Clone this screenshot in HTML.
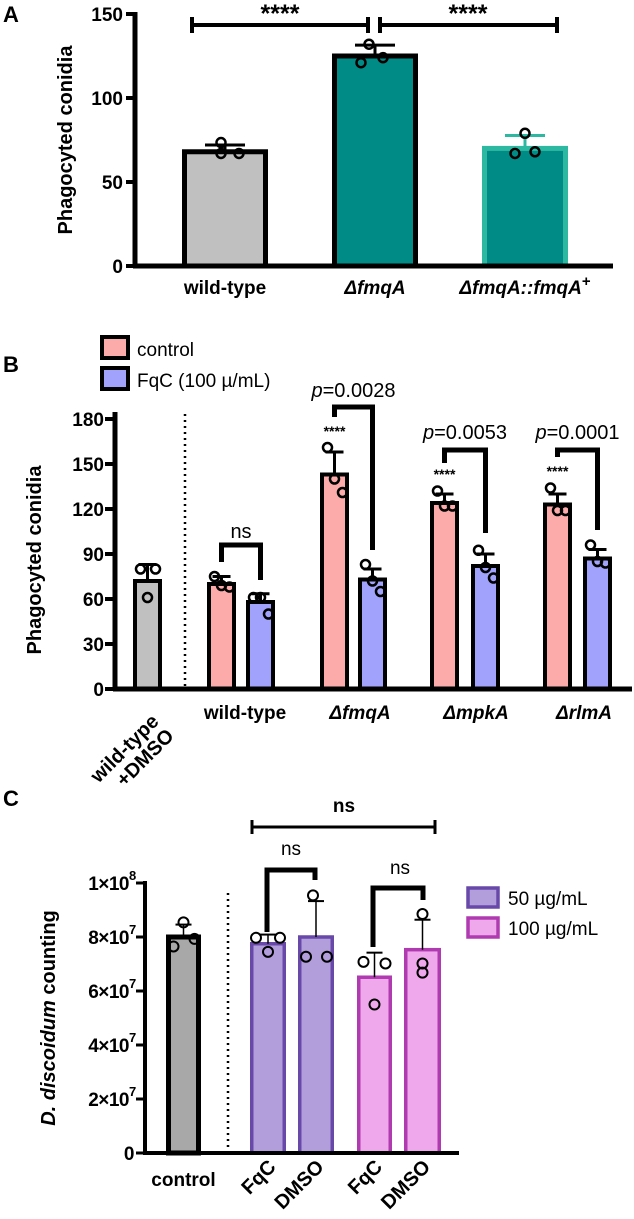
<!DOCTYPE html>
<html><head><meta charset="utf-8">
<style>
html,body{margin:0;padding:0;background:#fff;}
svg{display:block;font-family:"Liberation Sans",sans-serif;}
</style></head>
<body>
<svg id="fig" width="634" height="1219" viewBox="0 0 634 1219" xmlns="http://www.w3.org/2000/svg"></svg>
<script>
// ---------- Panel A data ----------
const aCategories = ["wild-type", "ΔfmqA", "ΔfmqA::fmqA+"];
const aMeans = [68, 125, 70];
const aErrTop = [72, 131.5, 77.7];
const aPoints = [[73.5, 67, 67], [132, 121, 124], [79, 67, 68]];
const aTicks = [0, 50, 100, 150];
// ---------- Panel B data ----------
const bCategories = ["wild-type +DMSO", "wild-type", "ΔfmqA", "ΔmpkA", "ΔrlmA"];
const bDmsoMean = [72];
const bDmsoErr = [83];
const bDmsoPoints = [[80, 80, 61]];
const bControlMeans = [70, 143, 124, 123];
const bControlErr = [75, 158, 130, 130];
const bControlPoints = [[75, 69, 68], [161, 140, 131], [132, 122, 122], [134, 119, 119]];
const bFqcMeans = [58, 73, 82, 87];
const bFqcErr = [63.5, 80, 90, 93];
const bFqcPoints = [[61, 61, 50], [83, 72, 65], [92.5, 81, 74], [96, 85, 84]];
const bPvals = ["ns", "p=0.0028", "p=0.0053", "p=0.0001"];
const bTicks = [0, 30, 60, 90, 120, 150, 180];
// ---------- Panel C data ----------
const cCategories = ["control", "FqC", "DMSO", "FqC", "DMSO"];
const cMeans = [8.0, 7.75, 8.0, 6.51, 7.53];   // x1e7
const cErrTop = [8.46, 8.09, 9.33, 7.42, 8.64];
const cPoints = [[8.54, 7.65, 7.93], [7.97, 7.97, 7.45], [9.54, 7.27, 7.27], [7.08, 7.02, 5.5], [8.85, 7.02, 6.68]];
const cTicks = [0, 2, 4, 6, 8, 10];
const cTickLabels = ["0", "2×10", "4×10", "6×10", "8×10", "1×10"];
const cTickExp = ["", "7", "7", "7", "7", "8"];

const NS = "http://www.w3.org/2000/svg";
const fig = document.getElementById("fig");
function el(tag, attrs, parent, text) {
  const e = document.createElementNS(NS, tag);
  for (const k in attrs) e.setAttribute(k, attrs[k]);
  if (text !== undefined) e.textContent = text;
  (parent || fig).appendChild(e);
  return e;
}
function line(x1,y1,x2,y2,w,p,c){return el("line",{x1,y1,x2,y2,stroke:c||"#000","stroke-width":w},p);}

// ================= PANEL A =================
const gA = el("g", {});


const aY = v => 266 - v * (252 / 150);
const aBarL = [182, 332, 482], aBarW = 86;
const aX = i => aBarL[i] + aBarW / 2;
const tA = el("text", {x: 3, y: 22, "font-size": 22, "font-weight": "bold"}, gA, "A");


const aFill = ["#c0c0c0", "#008b87", "#008b87"], aStroke = ["#000", "#000", "#2db8a2"];
aMeans.forEach((v, i) => {
  const r = el("rect", {x: aBarL[i]+2.5, y: aY(v), width: aBarW-5, height: 266-aY(v), fill: aFill[i], stroke: aStroke[i], "stroke-width": 5}, gA);
  
  
  const ec = aStroke[i];
  line(aX(i), aY(v), aX(i), aY(aErrTop[i]), 3, gA, ec);
  line(aX(i)-20, aY(aErrTop[i]), aX(i)+20, aY(aErrTop[i]), 3, gA, ec);
  const offs = [[-4, -4, 14], [-6, -14, 8], [0, -10, 10]][i];
  aPoints[i].forEach((p, j) => {
    const c = el("circle", {cx: aX(i)+offs[j], cy: aY(p), r: 4.5, fill: "none", stroke: "#000", "stroke-width": 2.5}, gA);
    
    
  });
});
line(135, 12, 135, 268, 5, gA);
line(133, 266, 613, 266, 5, gA);
aTicks.forEach(t => {
  line(126, aY(t), 135, aY(t), 4, gA);
  const tx = el("text", {x: 123, y: aY(t)+7, "text-anchor": "end", "font-size": 19, "font-weight": "bold"}, gA, String(t));
  
  
});
const ytA = el("text", {transform: "translate(72,140) rotate(-90)", "text-anchor": "middle", "font-size": 20, "font-weight": "bold"}, gA, "Phagocyted conidia");


[[192, 368, 280], [380, 557, 468]].forEach(s => {
  line(s[0], 25, s[1], 25, 4, gA);
  line(s[0], 17, s[0], 33, 4, gA);
  line(s[1], 17, s[1], 33, 4, gA);
  const st = el("text", {x: s[2], y: 22, "text-anchor": "middle", "font-size": 25, "font-weight": "bold"}, gA, "****");
  
  
});
const axA = [["wild-type", false], ["ΔfmqA", true], ["ΔfmqA::fmqA", true]];
axA.forEach((c, i) => {
  const t = el("text", {x: aX(i), y: 294, "text-anchor": "middle", "font-size": 19, "font-weight": "bold", "font-style": c[1] ? "italic" : "normal"}, gA, c[0]);
  
  
  if (i === 2) el("tspan", {dy: -8, "font-size": 15, "font-style": "normal"}, t, "+");
});

// ================= PANEL B =================
const gB = el("g", {});


const bY = v => 689 - v * 1.5;
const bGrayL = 133, bGrayW = 29;
const bCtrlL = [207, 320, 430, 543], bFqcL = [246, 358, 471, 583], bW = 29;
const tB = el("text", {x: 3, y: 372, "font-size": 22, "font-weight": "bold"}, gB, "B");


[["control", "#fcaaaa", 337], ["FqC (100 µ/mL)", "#a0a2fc", 368]].forEach((l, i) => {
  const r = el("rect", {x: 102, y: l[2], width: 26, height: 21, fill: l[1], stroke: "#000", "stroke-width": 4}, gB);
  
  
  const t = el("text", {x: 137, y: l[2] + 19, "font-size": 19}, gB, l[0]);
  
  
});
function bBar(left, w, mean, err, pts, fill, name) {
  const r = el("rect", {x: left+2, y: bY(mean), width: w-4, height: 689-bY(mean), fill: fill, stroke: "#000", "stroke-width": 4}, gB);
  
  
  const cx = left + w/2;
  line(cx, bY(mean), cx, bY(err), 3, gB);
  line(cx-9, bY(err), cx+9, bY(err), 3, gB);
  pts.forEach((p, j) => {
    const c = el("circle", {cx: cx + [-7, 0, 8][j], cy: bY(p), r: 4.5, fill: "none", stroke: "#000", "stroke-width": 2.5}, gB);
    
    
  });
}
bBar(bGrayL, bGrayW, bDmsoMean[0], bDmsoErr[0], [bDmsoPoints[0][0], bDmsoPoints[0][2], bDmsoPoints[0][1]], "#c0c0c0", "bar-wildtype-dmso");
bControlMeans.forEach((v, i) => bBar(bCtrlL[i], bW, v, bControlErr[i], bControlPoints[i], "#fcaaaa", "bar-control-" + i));
bFqcMeans.forEach((v, i) => bBar(bFqcL[i], bW, v, bFqcErr[i], bFqcPoints[i], "#a0a2fc", "bar-fqc-" + i));
el("line", {x1: 185, y1: 414, x2: 185, y2: 687, stroke: "#000", "stroke-width": 2.5, "stroke-dasharray": "2 4"}, gB);
line(115, 412, 115, 691, 5, gB);
line(113, 689, 632, 689, 5, gB);
bTicks.forEach(t => {
  line(105, bY(t), 115, bY(t), 4, gB);
  const tx = el("text", {x: 104, y: bY(t)+7, "text-anchor": "end", "font-size": 19, "font-weight": "bold"}, gB, String(t));
  
  
});
const ytB = el("text", {transform: "translate(41,560) rotate(-90)", "text-anchor": "middle", "font-size": 20, "font-weight": "bold"}, gB, "Phagocyted conidia");


const brTop = [545, 407, 450, 450], brL = [562, 417, 463, 457], brR = [580, 550, 533, 530], brLab = [538, 397, 439, 439];
const starY = [null, 436, 479, 476];
bPvals.forEach((p, i) => {
  const xl = bCtrlL[i] + bW/2, xr = bFqcL[i] + bW/2;
  el("polyline", {points: `${xl},${brL[i]} ${xl},${brTop[i]} ${xr},${brTop[i]} ${xr},${brR[i]}`, fill: "none", stroke: "#000", "stroke-width": 5}, gB);
  const cx = (xl + xr)/2;
  const t = el("text", {x: cx, y: brLab[i], "text-anchor": "middle", "font-size": 20}, gB);
  
  
  if (p.startsWith("p=")) { el("tspan", {"font-style": "italic"}, t, "p"); el("tspan", {}, t, p.slice(1)); }
  else t.textContent = p;
  if (starY[i]) {
    const s = el("text", {x: xl, y: starY[i], "text-anchor": "middle", "font-size": 14, "font-weight": "bold"}, gB, "****");
    
    
  }
});
const bLabX = [null, 245, 360, 476, 584];
bCategories.forEach((c, i) => {
  if (i === 0) {
    const t = el("text", {transform: "translate(132,756) rotate(-45)", "text-anchor": "middle", "font-size": 20, "font-weight": "bold"}, gB);
    
    
    el("tspan", {x: 0, y: -4}, t, "wild-type");
    el("tspan", {x: 8, y: 17}, t, "+DMSO");
    return;
  }
  const t = el("text", {x: bLabX[i], y: 719, "text-anchor": "middle", "font-size": 19, "font-weight": "bold", "font-style": c.startsWith("Δ") ? "italic" : "normal"}, gB, c);
  
  
});

// ================= PANEL C =================
const gC = el("g", {});


const cY = v => 1153 - v * 27;
const cBarL = [166, 250, 298, 357, 404], cW = [35, 36, 36, 35, 37];
const cFill = ["#a8a8a8", "#b39edc", "#b39edc", "#f0a8ec", "#f0a8ec"];
const cStroke = ["#000", "#6848a8", "#6848a8", "#b03ab0", "#b03ab0"];
const cSW = [5, 3.5, 3.5, 3.5, 3.5];
const tC = el("text", {x: 3, y: 806, "font-size": 22, "font-weight": "bold"}, gC, "C");


const cOffs = [[0, -10, 11], [-12, 12, 0], [-3, -10, 11], [-11, 11, 0], [0, 0, 0]];
cMeans.forEach((v, i) => {
  const r = el("rect", {x: cBarL[i]+cSW[i]/2, y: cY(v), width: cW[i]-cSW[i], height: 1153-cY(v), fill: cFill[i], stroke: cStroke[i], "stroke-width": cSW[i]}, gC);
  
  
  const cx = cBarL[i] + cW[i]/2;
  line(cx, cY(v), cx, cY(cErrTop[i]), 1.5, gC);
  line(cx-8, cY(cErrTop[i]), cx+8, cY(cErrTop[i]), 2, gC);
  cPoints[i].forEach((p, j) => {
    const c = el("circle", {cx: cx + cOffs[i][j], cy: cY(p), r: 5, fill: "none", stroke: "#000", "stroke-width": 2}, gC);
    
    
  });
});
el("line", {x1: 228, y1: 893, x2: 228, y2: 1151, stroke: "#000", "stroke-width": 2.5, "stroke-dasharray": "2 4"}, gC);
line(145, 881, 145, 1155, 4, gC);
line(143, 1153, 459, 1153, 4, gC);
cTicks.forEach((t, i) => {
  line(136, cY(t), 145, cY(t), 3, gC);
  const tx = el("text", {x: cTickExp[i] ? 129 : 134, y: cY(t)+7, "text-anchor": "end", "font-size": 19, "font-weight": "bold", "letter-spacing": "-0.5"}, gC, cTickLabels[i]);
  
  
  if (cTickExp[i]) el("text", {x: 129, y: cY(t)-3, "font-size": 13, "font-weight": "bold"}, gC, cTickExp[i]);
});
const ytC = el("text", {transform: "translate(55,1018) rotate(-90)", "text-anchor": "middle", "font-size": 20, "font-weight": "bold"}, gC);


el("tspan", {"font-style": "italic"}, ytC, "D. discoidum");
el("tspan", {}, ytC, " counting");
line(252, 827, 435, 827, 3, gC); line(252, 820, 252, 834, 3, gC); line(435, 820, 435, 834, 3, gC);
const nsAll = el("text", {x: 344, y: 812, "text-anchor": "middle", "font-size": 19, "font-weight": "bold"}, gC, "ns");


el("polyline", {points: "267,932 267,870 315,870 315,880", fill: "none", stroke: "#000", "stroke-width": 5}, gC);
el("polyline", {points: "373,947 373,888 423,888 423,900", fill: "none", stroke: "#000", "stroke-width": 5}, gC);
[[291, 855], [400, 874]].forEach(p => {
  const t = el("text", {x: p[0], y: p[1], "text-anchor": "middle", "font-size": 19}, gC, "ns");
  
  
});
[["50 µg/mL", "#b39edc", "#6848a8", 888], ["100 µg/mL", "#f0a8ec", "#b03ab0", 918]].forEach(l => {
  const r = el("rect", {x: 468, y: l[3], width: 30, height: 19, fill: l[1], stroke: l[2], "stroke-width": 3.5}, gC);
  
  
  const t = el("text", {x: 508, y: l[3] + 17, "font-size": 19}, gC, l[0]);
  
  
});
cCategories.forEach((c, i) => {
  const cx = cBarL[i] + cW[i]/2;
  let t;
  if (i === 0) t = el("text", {x: cx, y: 1186, "text-anchor": "middle", "font-size": 19, "font-weight": "bold"}, gC, c);
  else t = el("text", {transform: `translate(${cx+9},1168) rotate(-45)`, "text-anchor": "end", "font-size": 20, "font-weight": "bold"}, gC, c);
  
  
});
</script>
</body></html>
